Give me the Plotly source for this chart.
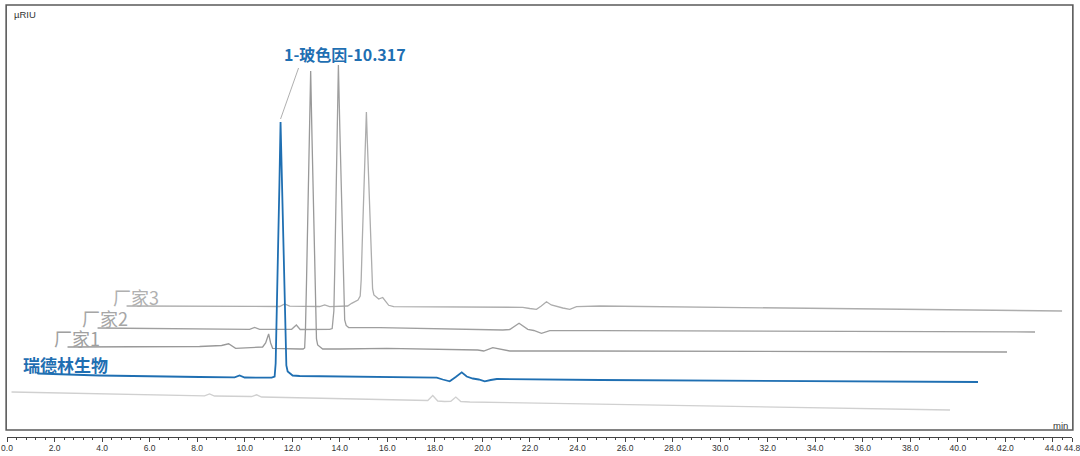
import plotly.graph_objects as go

# ---------------- data (retention time in min, signal in µRIU) ----------------
SERIES_NAMES = ["空白", "瑞德林生物", "厂家1", "厂家2", "厂家3"]

BLANK_TIME = [0.19, 3.89, 8.31, 8.52, 8.73, 10.29, 10.50, 10.71, 17.36, 17.70, 17.91,
              18.12, 18.41, 18.67, 18.88, 19.09, 19.47, 25.0, 39.67]
BLANK_SIGNAL = [0, -1.7, -3.8, -2.0, -4.0, -4.5, -2.8, -5.0, -8.0, -8.5, -3.5,
                -9.0, -9.5, -9.3, -5.0, -9.5, -10.0, -12.3, -18.0]

BLUE_TIME = [0.094, 2.70, 6.91, 8.385, 8.595, 8.806, 9.942, 10.068, 10.111, 10.163, 10.216,
             10.268, 10.317, 10.380, 10.437, 10.494, 10.540, 10.561, 10.616, 10.700, 10.826,
             11.121, 16.887, 17.139, 17.434, 17.686, 17.939, 18.149, 18.402, 18.654, 18.907,
             19.159, 19.412, 23.747, 39.656]
BLUE_SIGNAL = [0, -2, -3.5, -3.8, -2, -4, -4.2, -3, 10, 60, 124,
               188, 251.5, 188, 124, 61, 18, 8, 2, 0, -2,
               -2.5, -4.2, -6, -7.8, -3.5, 1.2, -3, -5, -6, -7.8,
               -6.5, -5.5, -6.5, -8.5]

M1_TIME = [0.166, 3.617, 5.722, 6.648, 6.942, 7.237, 7.826, 8.373, 8.500, 8.626, 8.710,
           8.794, 9.931, 10.078, 10.141, 10.175, 10.221, 10.278, 10.335, 10.394, 10.453,
           10.509, 10.566, 10.613, 10.638, 10.688, 10.772, 10.899, 11.614, 13.592, 17.422,
           17.675, 18.054, 18.432, 18.769, 21.715, 39.686]
M1_SIGNAL = [0, 0.5, 0.5, 1.5, 3.2, -1.3, -0.5, 0, 4, 13, 4,
             -1.3, -2, -2, -1, 17.5, 67.5, 137, 206.5, 276, 206.5,
             137, 67.5, 17.5, 8, 2, 0, -2, -2, -1.3, -3,
             -4, -0.7, -2.5, -4, -4, -5]

M2_TIME = [0.239, 4.532, 6.636, 6.847, 7.057, 8.404, 8.602, 8.762, 10.003, 10.109, 10.180,
           10.222, 10.271, 10.319, 10.370, 10.433, 10.494, 10.555, 10.605, 10.635, 10.698,
           10.803, 10.929, 12.108, 17.284, 17.579, 17.970, 18.337, 18.589, 18.913, 19.263,
           21.367, 39.675]
M2_SIGNAL = [0, -1, -1.3, 0.5, -1.3, -1.3, 3, -1.5, -1.3, -0.5, 17.2,
             64.8, 130.9, 197, 263, 197.3, 131.7, 66, 18.7, 8, 2.5,
             0.5, 0.3, 0.3, -2, -1.5, 4.7, -1.3, -2.5, -5.3, -2.7,
             -2.7, -4]

M3_TIME = [0.270, 3.342, 6.709, 6.919, 7.130, 8.392, 8.603, 8.813, 9.571, 9.739, 9.866,
           10.004, 10.097, 10.139, 10.181, 10.232, 10.282, 10.320, 10.358, 10.396, 10.438,
           10.489, 10.543, 10.594, 10.619, 10.674, 10.770, 10.876, 11.044, 11.191, 11.297,
           11.507, 11.760, 16.936, 17.231, 17.513, 17.715, 17.934, 18.136, 18.355, 18.620,
           18.915, 19.197, 20.177, 39.622]
M3_SIGNAL = [0, -0.3, -0.5, 2, -0.2, -0.5, 1, -0.7, 0, 2.7, 4.5,
             6, 10, 26, 61, 101, 136, 166, 194, 166, 136,
             96, 56, 31, 17, 11, 9, 7, 8.5, 4, 0.7,
             -0.7, -0.7, -1.3, -2.5, -3.3, 0, 4.3, 1, -0.7, -2,
             -3.3, -0.7, 0, -5]

PEAK_LABEL = "1-玻色因-10.317"
PEAK_TIME = 10.317
PEAK_SIGNAL = 251.5

TICK_VALUES = [0, 2, 4, 6, 8, 10, 12, 14, 16, 18, 20, 22, 24, 26, 28, 30, 32, 34, 36,
               38, 40, 42, 44, 44.8]
TICK_LABELS = ["0.0", "2.0", "4.0", "6.0", "8.0", "10.0", "12.0", "14.0", "16.0", "18.0",
               "20.0", "22.0", "24.0", "26.0", "28.0", "30.0", "32.0", "34.0", "36.0",
               "38.0", "40.0", "42.0", "44.0", "44.8"]

# ---------------- stacking / style ----------------
X_STEP = 1.19                      # min of horizontal offset per stacked trace
Y_OFFSETS = [45, 63.5, 90, 109, 131]
COLORS = ["#d0d0d0", "#1f6fb2", "#999999", "#9f9f9f", "#adadad"]
WIDTHS = [1.3, 1.8, 1.3, 1.3, 1.3]
BLUE = "#1f6fb2"

traces = [
    (BLANK_TIME, BLANK_SIGNAL),
    (BLUE_TIME, BLUE_SIGNAL),
    (M1_TIME, M1_SIGNAL),
    (M2_TIME, M2_SIGNAL),
    (M3_TIME, M3_SIGNAL),
]

fig = go.Figure()
draw_order = [0, 4, 3, 2, 1]
for k in draw_order:
    t, s = traces[k]
    fig.add_trace(go.Scatter(
        x=[v + k * X_STEP for v in t],
        y=[v + Y_OFFSETS[k] for v in s],
        mode="lines",
        name=SERIES_NAMES[k],
        line=dict(color=COLORS[k], width=WIDTHS[k]),
        hoverinfo="skip",
    ))

apex_x = PEAK_TIME + 1 * X_STEP
apex_y = PEAK_SIGNAL + Y_OFFSETS[1]

cjk = "Noto Sans CJK SC"
annotations = [
    dict(x=apex_x, y=apex_y, xref="x", yref="y", text="<b>" + PEAK_LABEL + "</b>",
         showarrow=False, xshift=64, yshift=68, xanchor="center", yanchor="middle",
         font=dict(family=cjk, size=16, color=BLUE)),
    dict(x=5.43, y=140, xref="x", yref="y", text=SERIES_NAMES[4], showarrow=False,
         xanchor="center", yanchor="middle", font=dict(family=cjk, size=18, color="#b0b0b0")),
    dict(x=4.12, y=119, xref="x", yref="y", text=SERIES_NAMES[3], showarrow=False,
         xanchor="center", yanchor="middle", font=dict(family=cjk, size=18, color="#a6a6a6")),
    dict(x=2.94, y=99, xref="x", yref="y", text=SERIES_NAMES[2], showarrow=False,
         xanchor="center", yanchor="middle", font=dict(family=cjk, size=18, color="#a0a0a0")),
    dict(x=2.44, y=73, xref="x", yref="y", text="<b>" + SERIES_NAMES[1] + "</b>", showarrow=False,
         xanchor="center", yanchor="middle", font=dict(family=cjk, size=17, color=BLUE)),
    dict(x=0.0045, y=0.977, xref="paper", yref="paper", text="µRIU", showarrow=False,
         xanchor="left", yanchor="middle",
         font=dict(family="Liberation Sans, Arial", size=9.5, color="#333333")),
    dict(x=0.9985, y=0.026, xref="paper", yref="paper", text="min", showarrow=False,
         xanchor="right", yanchor="middle",
         font=dict(family="Liberation Sans, Arial", size=9.5, color="#333333")),
]

shapes = [
    dict(type="rect", xref="paper", yref="paper", x0=-0.0008, x1=1.0008,
         y0=7 / 432, y1=1.0, line=dict(color="#5a5a5a", width=1.6), fillcolor="rgba(0,0,0,0)"),
    dict(type="line", xref="x", yref="y", xsizemode="pixel", ysizemode="pixel",
         xanchor=apex_x, yanchor=apex_y, x0=0, y0=3, x1=18, y1=54,
         line=dict(color="#9a9a9a", width=0.8)),
]

minor_vals = [i * 0.4 for i in range(0, 113)]

fig.update_layout(
    width=1080, height=456,
    margin=dict(l=7, r=8, t=5, b=19, autoexpand=False),
    paper_bgcolor="white", plot_bgcolor="white",
    showlegend=False,
    annotations=annotations,
    shapes=shapes,
    xaxis=dict(
        range=[0, 44.8], showgrid=False, zeroline=False,
        showline=True, linecolor="#444444", linewidth=1,
        ticks="outside", ticklen=4, tickcolor="#444444", tickwidth=1,
        tickmode="array", tickvals=TICK_VALUES, ticktext=TICK_LABELS,
        tickangle=0,
        ticklabelstandoff=-1, ticklabeloverflow="allow",
        tickfont=dict(family="Liberation Sans Narrow, Arial Narrow, Liberation Sans", size=8.5,
                      color="#333333"),
        minor=dict(tickmode="array", tickvals=minor_vals, ticks="outside", ticklen=2,
                   tickcolor="#444444"),
    ),
    yaxis=dict(range=[0, 432], visible=False, fixedrange=True),
)

fig.write_html(
    "out.html",
    config={"displayModeBar": False},
    post_script="document.body.style.margin='0';document.body.style.overflow='hidden';",
)
